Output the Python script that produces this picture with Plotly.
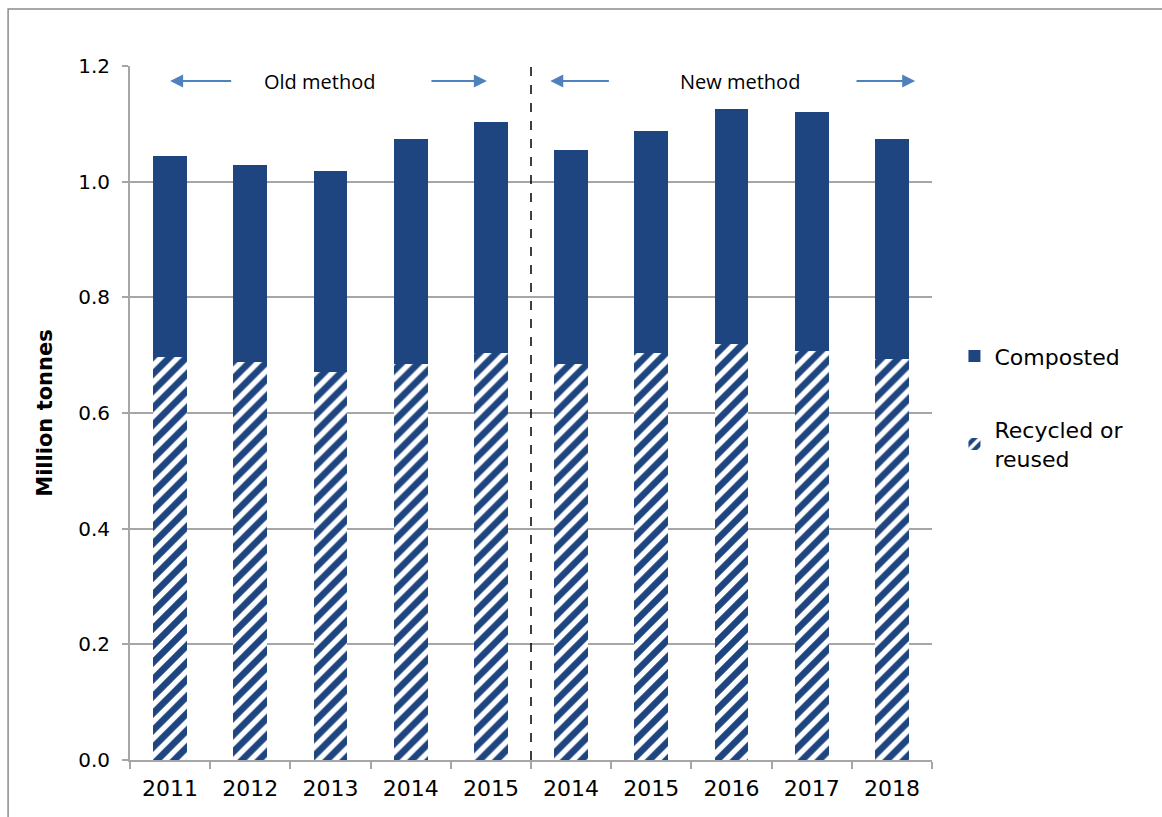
import plotly.graph_objects as go

# Municipal waste recycled/reused and composted, million tonnes
years = ["2011", "2012", "2013", "2014", "2015", "2014", "2015", "2016", "2017", "2018"]
recycled = [0.697, 0.688, 0.671, 0.684, 0.703, 0.685, 0.703, 0.719, 0.707, 0.693]
composted = [0.347, 0.341, 0.347, 0.390, 0.400, 0.370, 0.384, 0.407, 0.413, 0.381]
y_ticks = [0.0, 0.2, 0.4, 0.6, 0.8, 1.0, 1.2]

NAVY = "#1E4580"
ARROW = "#4F81BD"
GRID = "#A6A6A6"
FONT = "DejaVu Sans, sans-serif"
LABEL_FONT = "Open Sans, sans-serif"

xpos = list(range(len(years)))
method_break = 4.5  # old method: first five bars, new method: last five

fig = go.Figure()
fig.add_trace(go.Bar(
    x=xpos, y=recycled, name="Recycled or<br>reused", width=0.42,
    legendgroup="recycled", legendrank=2,
    marker=dict(color=NAVY, line=dict(width=0),
                pattern=dict(shape="/", fgcolor="white", bgcolor=NAVY,
                             size=12, solidity=0.45, fgopacity=1)),
))
fig.add_trace(go.Bar(
    x=xpos, y=composted, name="Composted", width=0.42,
    legendgroup="composted", legendrank=1,
    marker=dict(color=NAVY, line=dict(width=0)),
))

# Dashed divider between the two methods
fig.add_shape(type="line", xref="x", yref="paper", x0=method_break, x1=method_break,
              y0=0, y1=1, line=dict(color="black", width=1.5, dash="dash"))

# Outer frame
fig.add_shape(type="rect", xref="paper", yref="paper", x0=-0.152, x1=2, y0=-2, y1=1.082,
              line=dict(color="#8C8C8C", width=1.5))

ann = []
arrow_y = 1.174
for tail, head in [(0.78, 0.0), (3.24, 3.95), (5.49, 4.74), (8.54, 9.29)]:
    ann.append(dict(x=head, y=arrow_y, ax=tail, ay=arrow_y, xref="x", yref="y",
                    axref="x", ayref="y", showarrow=True, arrowhead=2, arrowsize=1.3,
                    arrowwidth=2, arrowcolor=ARROW, text=""))
ann.append(dict(x=1.86, y=arrow_y, xref="x", yref="y", text="Old method", showarrow=False,
                font=dict(family=LABEL_FONT, size=20, color="black")))
ann.append(dict(x=7.1, y=arrow_y, xref="x", yref="y", text="New method", showarrow=False,
                font=dict(family=LABEL_FONT, size=20, color="black")))

fig.update_layout(
    width=1162, height=817,
    margin=dict(l=130, r=230, t=66, b=57),
    barmode="stack",
    plot_bgcolor="white", paper_bgcolor="white",
    font=dict(family=FONT, size=21, color="black"),
    showlegend=True,
    legend=dict(x=1.028, y=0.612, xanchor="left", yanchor="top",
                traceorder="grouped", tracegroupgap=42,
                font=dict(family=FONT, size=22), itemwidth=30),
    annotations=ann,
    xaxis=dict(
        range=[-0.5, 9.5], tickmode="array", tickvals=xpos, ticktext=years,
        ticks="", showgrid=False, showline=True, linecolor=GRID, linewidth=2,
        ticklabelstandoff=8, tickfont=dict(size=22),
        minor=dict(tick0=-0.5, dtick=1, ticks="outside", ticklen=7,
                   tickcolor=GRID, tickwidth=2, showgrid=False),
        zeroline=False,
    ),
    yaxis=dict(
        range=[0, 1.2], tickmode="array", tickvals=y_ticks,
        ticktext=[f"{v:.1f}" for v in y_ticks],
        ticks="outside", ticklen=6, tickcolor=GRID, tickwidth=2,
        showgrid=True, gridcolor=GRID, gridwidth=1.5,
        showline=True, linecolor=GRID, linewidth=2, zeroline=False,
        ticklabelstandoff=8, tickfont=dict(size=20),
        title=dict(text="<b>Million tonnes</b>", standoff=20,
                   font=dict(family=FONT, size=21)),
    ),
)

fig.write_html("out.html")
